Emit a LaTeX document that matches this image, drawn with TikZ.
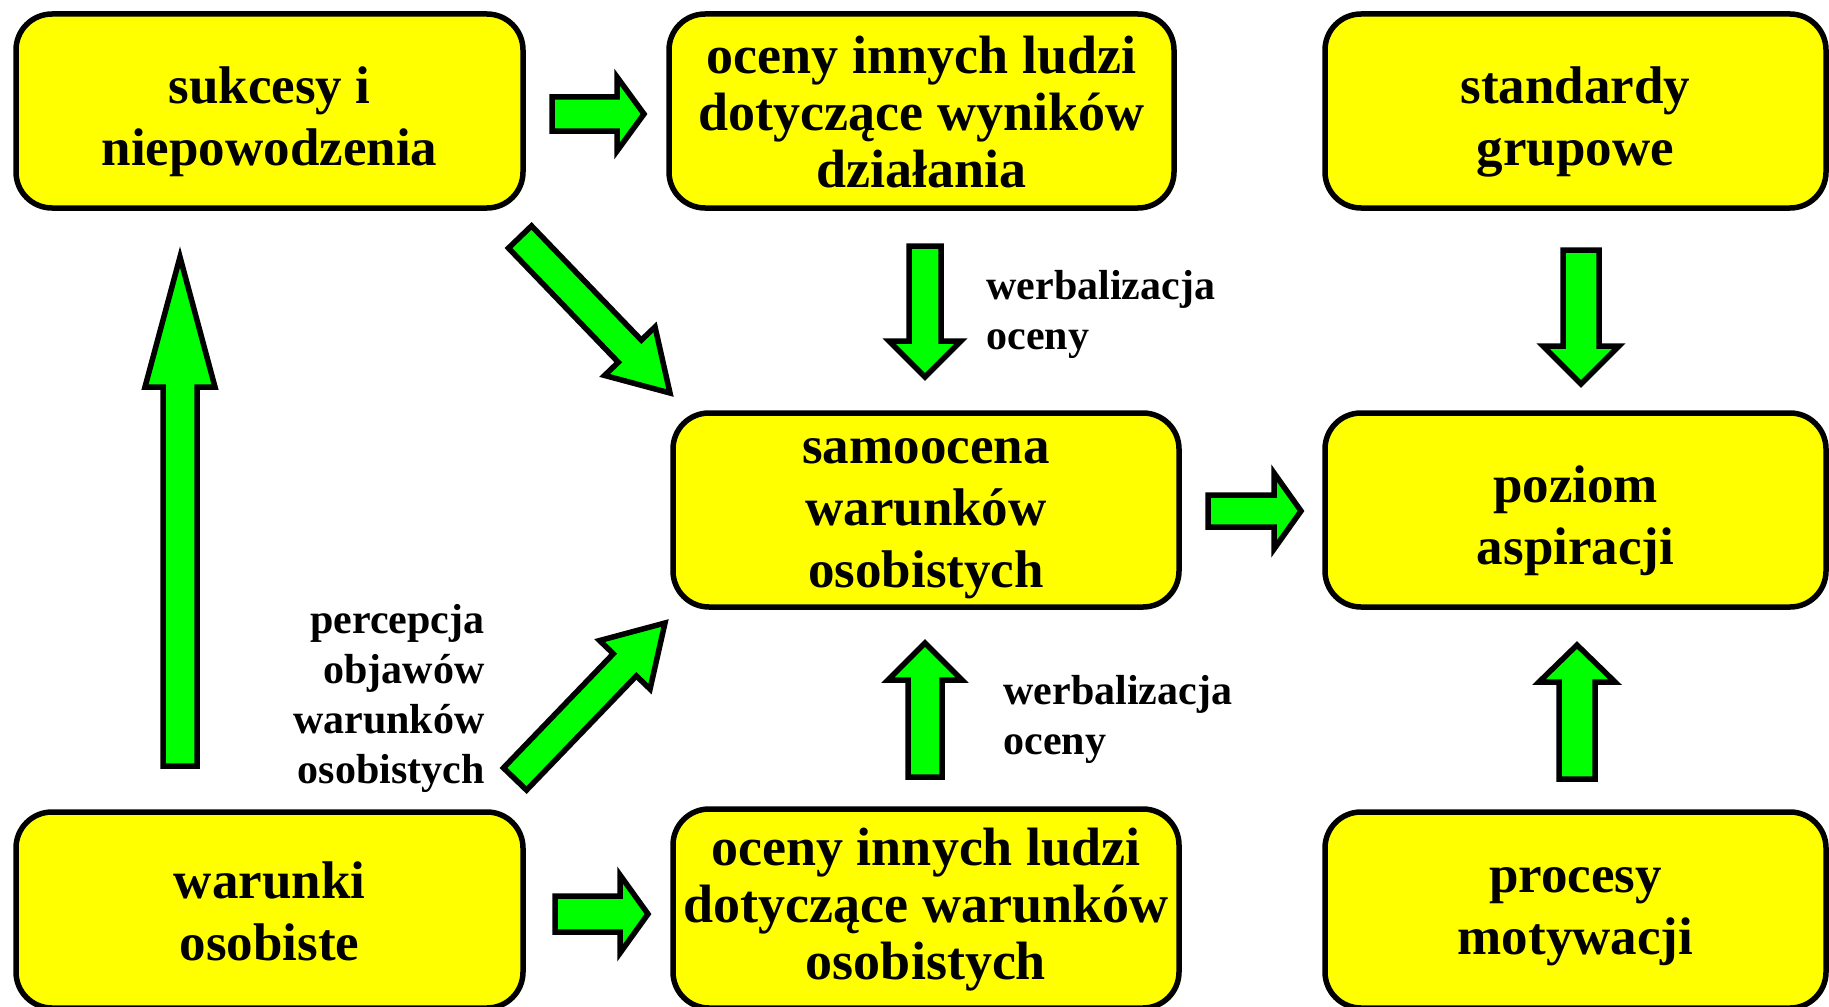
\documentclass[tikz,border=0pt]{standalone}
\usepackage{fontspec}
\setmainfont{Liberation Serif}
\usetikzlibrary{calc}
\definecolor{boxyellow}{RGB}{255,255,0}
\definecolor{arrgreen}{RGB}{0,255,0}
\newcommand{\blockarrow}[5]{%
  \coordinate (bahead) at ($(#2)!#5*0.5pt!(#1)$);
  \filldraw[blockarr] ($(#1)!#3*0.5pt!90:(#2)$) -- ($(bahead)!#3*0.5pt!90:(#2)$) -- ($(bahead)!#4*0.5pt!90:(#2)$) -- (#2) -- ($(bahead)!#4*0.5pt!-90:(#2)$) -- ($(bahead)!#3*0.5pt!-90:(#2)$) -- ($(#1)!#3*0.5pt!-90:(#2)$) -- cycle;}
\tikzset{
  box/.style={draw, line width=2.75pt, fill=boxyellow, rounded corners=18pt, inner sep=0pt},
  boxtext/.style={font=\bfseries\fontsize{26.5pt}{31pt}\selectfont, align=center, inner sep=0pt},
  boxtextb/.style={font=\bfseries\fontsize{27pt}{28.5pt}\selectfont, align=center, inner sep=0pt},
  lbl/.style={font=\bfseries\fontsize{21pt}{25pt}\selectfont, inner sep=0pt},
  blockarr/.style={draw=black, fill=arrgreen, line width=2.75pt, line join=miter, miter limit=10}
}
\begin{document}
\begin{tikzpicture}[x=0.5pt,y=-0.5pt]
\useasboundingbox (0,0) rectangle (1829,1006);
\clip (0,0) rectangle (1829,1006);
\fill[white] (0,0) rectangle (1829,1006);
% boxes
\node[box, minimum width=253.5pt, minimum height=97pt] (b1) at (269.5,111) {};
\node[box, minimum width=252.5pt, minimum height=97pt] (b2) at (921.5,111) {};
\node[box, minimum width=250.5pt, minimum height=97pt] (b3) at (1575.5,111) {};
\node[box, minimum width=253pt, minimum height=97pt] (b4) at (926,510) {};
\node[box, minimum width=250.5pt, minimum height=97pt] (b5) at (1575.5,510) {};
\node[box, minimum width=253.5pt, minimum height=98pt] (b6) at (269.5,910) {};
\node[box, minimum width=253pt, minimum height=99.5pt] (b7) at (926,908.5) {};
\node[box, minimum width=250.5pt, minimum height=98pt] (b8) at (1575.5,910) {};
% box texts
\node[boxtext] (t1) at (269.5,122) {sukcesy i\\niepowodzenia};
\node[boxtextb] (t2) at (921.5,112.5) {oceny innych ludzi\\dotyczące wyników\\działania};
\node[boxtext] (t3) at (1575.5,121.5) {standardy\\grupowe};
\node[boxtext] (t4) at (926,519) {samoocena\\warunków\\osobistych};
\node[boxtext] (t5) at (1575.5,521) {poziom\\aspiracji};
\node[boxtext] (t6) at (269.5,911) {warunki\\osobiste};
\node[boxtextb] (t7) at (926,910) {oceny innych ludzi\\dotyczące warunków\\osobistych};
\node[boxtext] (t8) at (1575.5,917) {procesy\\motywacji};
% labels
\node[lbl, align=left, anchor=north west] (l1) at (986,269.5) {werbalizacja\\oceny};
\node[lbl, align=left, anchor=north west] (l2) at (1003,674.5) {werbalizacja\\oceny};
\node[lbl, align=right, anchor=north east] (l3) at (485,604) {percepcja\\objawów\\warunków\\osobistych};
% arrow end points
\coordinate (a1s) at (552,114);  \coordinate (a1e) at (644,114);
\coordinate (a2s) at (520,237);  \coordinate (a2e) at (670,393);
\coordinate (a3s) at (925,246);  \coordinate (a3e) at (925,377);
\coordinate (a4s) at (180,766);  \coordinate (a4e) at (180,257);
\coordinate (a5s) at (515,779);  \coordinate (a5e) at (665,623);
\coordinate (a6s) at (555,914);  \coordinate (a6e) at (648,914);
\coordinate (a7s) at (925,777);  \coordinate (a7e) at (925,643);
\coordinate (a8s) at (1208,511); \coordinate (a8e) at (1301,511);
\coordinate (a9s) at (1581,250); \coordinate (a9e) at (1581,384);
\coordinate (a10s) at (1577,779); \coordinate (a10e) at (1577,645);
% arrows
\blockarrow{a1s}{a1e}{17}{37}{27}
\blockarrow{a2s}{a2e}{16}{35}{58}
\blockarrow{a3s}{a3e}{16}{36}{36}
\blockarrow{a4s}{a4e}{17}{35}{130}
\blockarrow{a5s}{a5e}{16}{35}{58}
\blockarrow{a6s}{a6e}{18}{39}{28}
\blockarrow{a7s}{a7e}{17}{37}{37}
\blockarrow{a8s}{a8e}{16}{38}{27}
\blockarrow{a9s}{a9e}{18}{38}{38}
\blockarrow{a10s}{a10e}{18}{38}{37}
\end{tikzpicture}
\end{document}
